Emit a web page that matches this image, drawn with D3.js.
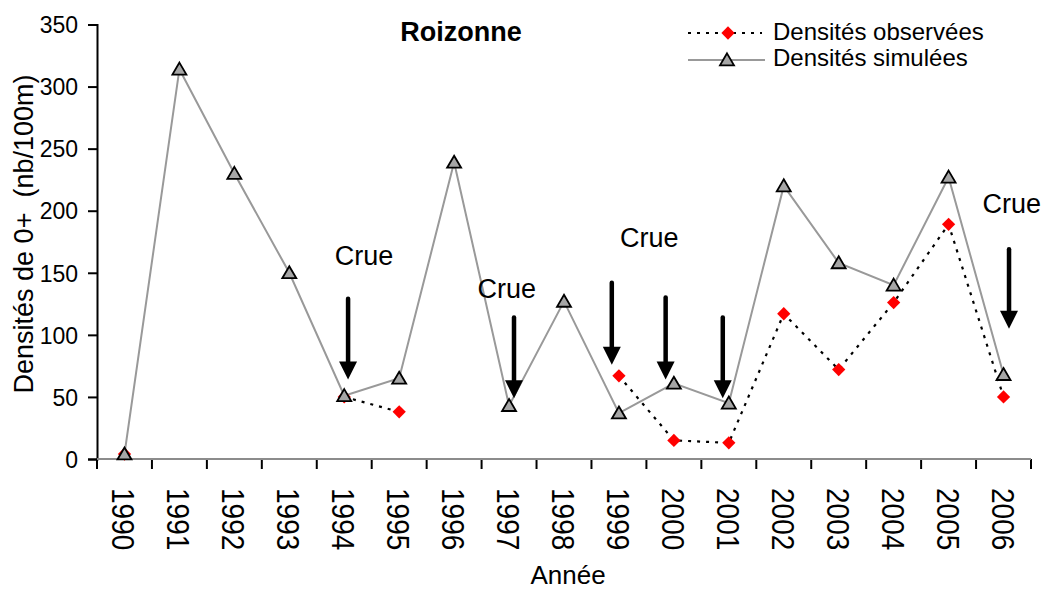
<!DOCTYPE html>
<html>
<head>
<meta charset="utf-8">
<script src="https://cdn.jsdelivr.net/npm/d3@7"></script>
<style>
  body { margin: 0; background: #fff; }
  svg text { font-family: "Liberation Sans", Arial, sans-serif; fill: #000; }
</style>
</head>
<body>
<div id="chart"></div>
<script>
// DATA
const years = ["1990","1991","1992","1993","1994","1995","1996","1997","1998",
               "1999","2000","2001","2002","2003","2004","2005","2006"];
const simulated = [4, 314, 230, 150, 51, 65, 239, 43, 127, 37, 61, 45, 220, 158, 140, 227, 68];
const observed  = [4, null, null, null, 50, 38, null, null, null, 67, 15, 13, 117, 72, 126, 189, 50];
const yTicks = [0, 50, 100, 150, 200, 250, 300, 350];

// flood arrows: year position, top value, tip value
const arrowYear = [1994.07, 1997.09, 1998.87, 1999.85, 2000.89, 2006.1];
const arrowTop  = [129, 114, 142, 130, 114, 169];
const arrowTip  = [64, 49, 76, 64, 49, 105];
// "Crue" labels: year position, baseline value
const crueYear = [1994.36, 1996.96, 1999.55, 2006.15];
const crueVal  = [156, 130, 171, 198];

const width = 1044, height = 590;
const margin = {top: 24.5, right: 13, bottom: 131, left: 97};

const svg = d3.select("#chart").append("svg")
    .attr("width", width)
    .attr("height", height);

const x = d3.scaleBand()
    .domain(years)
    .range([margin.left, width - margin.right])
    .padding(0);
const cx = d => x(d) + x.bandwidth() / 2;
// continuous year scale for annotations
const xl = d3.scaleLinear()
    .domain([1990, 2006])
    .range([cx("1990"), cx("2006")]);

const y = d3.scaleLinear()
    .domain([0, 350])
    .range([height - margin.bottom, margin.top]);

// --- Y AXIS ---
const yAxis = svg.append("g")
    .attr("transform", `translate(${margin.left},0)`)
    .call(d3.axisLeft(y).tickValues(yTicks).tickSize(9).tickPadding(10));
yAxis.select(".domain").attr("stroke", "#000").attr("stroke-width", 2);
yAxis.selectAll(".tick line").attr("stroke", "#000").attr("stroke-width", 2);
yAxis.selectAll(".tick text")
    .style("font-size", "23px")
    .attr("dy", "0.36em");

// --- X AXIS ---
const baseY = y(0);
const bounds = d3.range(years.length + 1).map(i => margin.left + i * x.step());
svg.append("g").selectAll("line")
    .data(bounds)
    .enter().append("line")
    .attr("x1", d => d).attr("x2", d => d)
    .attr("y1", baseY).attr("y2", baseY + 10)
    .attr("stroke", "#000")
    .attr("stroke-width", 2);
svg.append("line")
    .attr("x1", margin.left).attr("x2", width - margin.right)
    .attr("y1", baseY).attr("y2", baseY)
    .attr("stroke", "#8c8c8c")
    .attr("stroke-width", 2);

svg.append("g").selectAll("text")
    .data(years)
    .enter().append("text")
    .attr("transform", d => `translate(${cx(d) - 12},${baseY + 29}) rotate(90) scale(1,1.1)`)
    .attr("text-anchor", "start")
    .style("font-size", "28px")
    .text(d => d);

// axis titles
svg.append("text")
    .attr("transform", `translate(33,234) rotate(-90)`)
    .attr("text-anchor", "middle")
    .style("font-size", "27px")
    .style("white-space", "pre")
    .text("Densités de 0+  (nb/100m)");

svg.append("text")
    .attr("x", 568).attr("y", 584)
    .attr("text-anchor", "middle")
    .style("font-size", "26px")
    .text("Année");

svg.append("text")
    .attr("x", 461).attr("y", 41)
    .attr("text-anchor", "middle")
    .style("font-size", "27px")
    .style("font-weight", "bold")
    .text("Roizonne");

// --- SERIES ---
const simPts = years.map((d, i) => ({year: d, v: simulated[i]}));
const obsPts = years.map((d, i) => ({year: d, v: observed[i]}));

const line = d3.line()
    .defined(d => d.v != null)
    .x(d => cx(d.year))
    .y(d => y(d.v));

svg.append("path")
    .datum(simPts)
    .attr("d", line)
    .attr("fill", "none")
    .attr("stroke", "#999")
    .attr("stroke-width", 2);

svg.append("path")
    .datum(obsPts)
    .attr("d", line)
    .attr("fill", "none")
    .attr("stroke", "#000")
    .attr("stroke-width", 2.2)
    .attr("stroke-dasharray", "3,6");

const diamond = d3.symbol().type(d3.symbolSquare).size(88);
const triangle = d => {
    const w = 7, h = 12;
    return `M0,${-h * 0.55}L${w},${h * 0.45}L${-w},${h * 0.45}Z`;
};

svg.append("g").selectAll("path")
    .data(obsPts.filter(d => d.v != null))
    .enter().append("path")
    .attr("d", diamond)
    .attr("transform", d => `translate(${cx(d.year)},${y(d.v)}) rotate(45)`)
    .attr("fill", "#ff0000");

svg.append("g").selectAll("path")
    .data(simPts)
    .enter().append("path")
    .attr("d", triangle)
    .attr("transform", d => `translate(${cx(d.year)},${y(d.v)})`)
    .attr("fill", "#a6a6a6")
    .attr("stroke", "#000")
    .attr("stroke-width", 1.8)
    .attr("stroke-linejoin", "miter");

// --- FLOOD ANNOTATIONS ---
const arrows = svg.append("g");
arrowYear.forEach((yr, i) => {
    const ax = xl(yr), top = y(arrowTop[i]), tip = y(arrowTip[i]);
    const headH = 18, headW = 9;
    arrows.append("line")
        .attr("x1", ax).attr("x2", ax)
        .attr("y1", top).attr("y2", tip - headH + 2)
        .attr("stroke", "#000")
        .attr("stroke-width", 4.5)
        .attr("stroke-linecap", "round");
    arrows.append("path")
        .attr("d", `M${ax - headW},${tip - headH}L${ax + headW},${tip - headH}L${ax},${tip}Z`)
        .attr("fill", "#000");
});

svg.append("g").selectAll("text")
    .data(crueYear)
    .enter().append("text")
    .attr("x", d => xl(d))
    .attr("y", (d, i) => y(crueVal[i]))
    .attr("text-anchor", "middle")
    .style("font-size", "27px")
    .text("Crue");

// --- LEGEND ---
const legend = svg.append("g");
legend.append("line")
    .attr("x1", 688).attr("x2", 762).attr("y1", 33).attr("y2", 33)
    .attr("stroke", "#000").attr("stroke-width", 2.2)
    .attr("stroke-dasharray", "3,6");
legend.append("path")
    .attr("d", diamond)
    .attr("transform", "translate(728,33) rotate(45)")
    .attr("fill", "#ff0000");
legend.append("text")
    .attr("x", 773).attr("y", 40)
    .style("font-size", "24px")
    .text("Densités observées");

legend.append("line")
    .attr("x1", 688).attr("x2", 765).attr("y1", 60).attr("y2", 60)
    .attr("stroke", "#999").attr("stroke-width", 2);
legend.append("path")
    .attr("d", triangle)
    .attr("transform", "translate(727,60)")
    .attr("fill", "#a6a6a6")
    .attr("stroke", "#000")
    .attr("stroke-width", 1.8);
legend.append("text")
    .attr("x", 773).attr("y", 66)
    .style("font-size", "24px")
    .text("Densités simulées");
</script>
</body>
</html>
